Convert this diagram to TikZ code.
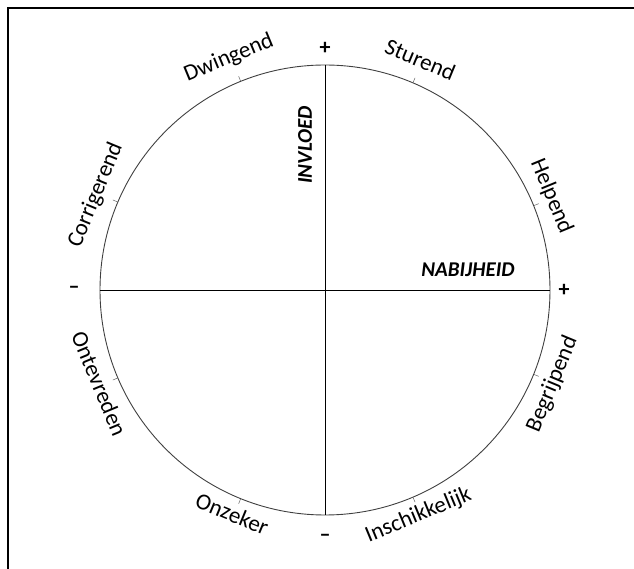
\documentclass[tikz,border=0pt]{standalone}
\usepackage{fontspec}
\setmainfont{Carlito}
\usepackage{tikz}
\usetikzlibrary{positioning, calc}
\tikzset{
  wheel/.style={
    circle, draw=black!75, line width=0.9pt,
    minimum size=450pt, inner sep=0pt
  },
  wheel tick/.style={
    draw=black!60, line width=0.5pt
  },
  wheel axis/.style={
    draw=black, line width=0.9pt
  },
  style up/.style={
    anchor=south, font=\fontsize{23}{25}\selectfont, inner sep=1pt
  },
  style down/.style={
    anchor=north, font=\fontsize{23}{25}\selectfont, inner sep=1pt
  },
  axis sign/.style={
    font=\fontsize{22}{24}\selectfont\bfseries, inner sep=1pt
  },
  axis name/.style={
    font=\fontsize{21}{23}\selectfont\bfseries\itshape, inner sep=1pt
  },
  frame line/.style={
    draw=black, line width=1.2pt
  }
}

\begin{document}
\begin{tikzpicture}[x=1pt, y=1pt]
  \useasboundingbox (-325,-279) rectangle (309,290);
  % screenshot frame
  \coordinate (fa) at (-317,-279);
  \coordinate (fb) at (-317,282);
  \coordinate (fc) at (309,282);
  \draw [frame line] (fa) -- (fb) -- (fc);

  \node (wheel) [wheel] at (0,0) {};

  % axes
  \draw [wheel axis] (wheel.west) -- (wheel.east);
  \draw [wheel axis] (wheel.north) -- (wheel.south);

  % ticks
  \draw [wheel tick] (wheel.112.5) -- ($(wheel.112.5)!-5pt!(wheel.center)$);
  \draw [wheel tick] (wheel.67.5) -- ($(wheel.67.5)!-5pt!(wheel.center)$);
  \draw [wheel tick] (wheel.157.5) -- ($(wheel.157.5)!-5pt!(wheel.center)$);
  \draw [wheel tick] (wheel.22.5) -- ($(wheel.22.5)!-5pt!(wheel.center)$);
  \draw [wheel tick] (wheel.-22.5) -- ($(wheel.-22.5)!-5pt!(wheel.center)$);
  \draw [wheel tick] (wheel.-67.5) -- ($(wheel.-67.5)!-5pt!(wheel.center)$);
  \draw [wheel tick] (wheel.-112.5) -- ($(wheel.-112.5)!-5pt!(wheel.center)$);
  \draw [wheel tick] (wheel.-157.5) -- ($(wheel.-157.5)!-5pt!(wheel.center)$);

  % styles round the wheel
  \node (dwingend) [style up, rotate=22.5] at (112.5:240) {Dwingend};
  \node (sturend) [style up, rotate=-22.5] at (67.5:240) {Sturend};
  \node (corrigerend) [style up, rotate=67.5] at (157.5:237) {Corrigerend};
  \node (helpend) [style up, rotate=-67.5] at (22.5:234) {Helpend};
  \node (begrijpend) [style down, rotate=67.5] at (-22.5:235) {Begrijpend};
  \node (inschikkelijk) [style down, rotate=22.5] at (-67.5:233) {Inschikkelijk};
  \node (onzeker) [style down, rotate=-22.5] at (-112.5:233) {Onzeker};
  \node (ontevreden) [style down, rotate=-67.5] at (-157.5:235) {Ontevreden};

  % signs
  \node (plus top) [axis sign] at (0,242) {+};
  \node (min bottom) [axis sign] at (0,-248) {--};
  \node (plus right) [axis sign] at (239,0) {+};
  \node (min left) [axis sign] at (-251,0) {--};

  \node (invloed) [axis name, rotate=90] at (-20,145) {INVLOED};
  \node (nabijheid) [axis name] at (143,20) {NABIJHEID};
\end{tikzpicture}
\end{document}
